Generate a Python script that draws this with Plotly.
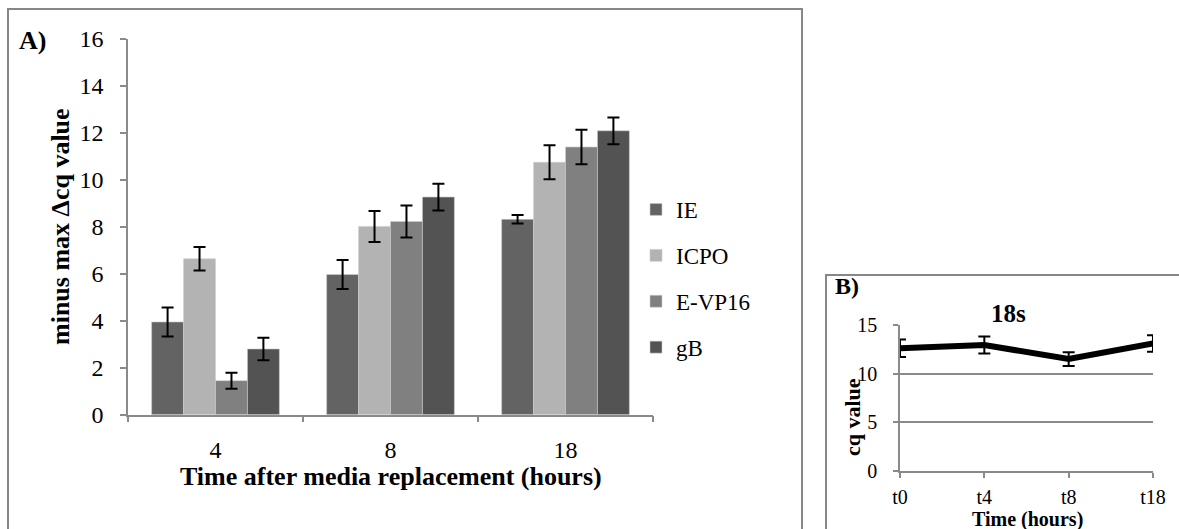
import plotly.graph_objects as go

W, H = 1179, 529
def px(x): return x / W
def py(y): return 1 - y / H

FONT = "Liberation Serif, Times New Roman, DejaVu Serif, serif"

# ---- Panel A data ----
timepoints = ["4", "8", "18"]
series_names = ["IE", "ICPO", "E-VP16", "gB"]
ie_vals = [3.95, 5.97, 8.32]
ie_err = [0.62, 0.62, 0.18]
icpo_vals = [6.64, 8.02, 10.75]
icpo_err = [0.50, 0.66, 0.72]
evp16_vals = [1.45, 8.23, 11.40]
evp16_err = [0.34, 0.68, 0.73]
gb_vals = [2.80, 9.27, 12.09]
gb_err = [0.48, 0.57, 0.57]
bar_colors = ["#636363", "#b3b3b3", "#808080", "#535353"]

# ---- Panel B data ----
b_times = ["t0", "t4", "t8", "t18"]
b_vals = [12.6, 12.95, 11.5, 13.1]
b_err = [0.9, 0.88, 0.7, 0.85]

fig = go.Figure()

for name, vals, errs, col in zip(series_names,
                                 [ie_vals, icpo_vals, evp16_vals, gb_vals],
                                 [ie_err, icpo_err, evp16_err, gb_err],
                                 bar_colors):
    fig.add_trace(go.Bar(
        x=timepoints, y=vals, name=name, legendgroup=name,
        marker=dict(color=col, line=dict(width=0.6, color="#cfcfcf")),
        error_y=dict(type="data", array=errs, visible=True,
                     color="black", thickness=2, width=6),
        xaxis="x", yaxis="y",
    ))

fig.add_trace(go.Scatter(
    x=b_times, y=b_vals, mode="lines", showlegend=False,
    line=dict(color="black", width=6),
    error_y=dict(type="data", array=b_err, visible=True,
                 color="black", thickness=2, width=6),
    xaxis="x2", yaxis="y2",
))

axis_gray = "#8a8a8a"

fig.update_layout(
    width=W, height=H,
    margin=dict(l=0, r=0, t=0, b=0, pad=0, autoexpand=False),
    paper_bgcolor="white", plot_bgcolor="rgba(0,0,0,0)",
    font=dict(family=FONT, color="black"),
    barmode="group", bargap=0.27, bargroupgap=0,
    showlegend=True,
    legend=dict(x=px(636), y=py(188), xanchor="left", yanchor="top",
                font=dict(family=FONT, size=23, color="black"),
                bgcolor="rgba(0,0,0,0)", tracegroupgap=13,
                itemclick=False),
    xaxis=dict(domain=[px(128), px(653)], anchor="y", type="category",
               tickson="boundaries", ticks="outside", ticklen=6,
               tickcolor=axis_gray, tickwidth=1.5,
               showline=True, linecolor=axis_gray, linewidth=1.5,
               showgrid=False, tickfont=dict(family=FONT, size=24),
               ticklabelstandoff=13),
    yaxis=dict(domain=[py(414.7), py(39)], anchor="x", range=[0, 16], dtick=2,
               ticks="outside", ticklen=6, tickcolor=axis_gray, tickwidth=1.5,
               showline=True, linecolor=axis_gray, linewidth=1.5,
               showgrid=False, zeroline=False,
               tickfont=dict(family=FONT, size=24), ticklabelstandoff=12),
    xaxis2=dict(domain=[px(900), px(1153)], anchor="y2", type="category",
                range=[0, 3], ticks="outside", ticklen=5,
                tickcolor=axis_gray, tickwidth=1.5,
                showline=True, linecolor=axis_gray, linewidth=1.5,
                showgrid=False, tickfont=dict(family=FONT, size=20),
                ticklabelstandoff=2),
    yaxis2=dict(domain=[py(471), py(325)], anchor="x2", range=[0, 15], dtick=5,
                ticks="outside", ticklen=5, tickcolor=axis_gray, tickwidth=1.5,
                showline=True, linecolor=axis_gray, linewidth=1.5,
                showgrid=True, gridcolor=axis_gray, gridwidth=1.5,
                zeroline=False, tickfont=dict(family=FONT, size=20),
                ticklabelstandoff=12),
    shapes=[
        dict(type="rect", xref="paper", yref="paper",
             x0=px(8), x1=px(802), y0=py(545), y1=py(9),
             line=dict(color="#878787", width=2), layer="below"),
        dict(type="rect", xref="paper", yref="paper",
             x0=px(826), x1=px(1195), y0=py(545), y1=py(275),
             line=dict(color="#878787", width=2), layer="below"),
    ],
    annotations=[
        dict(text="<b>A)</b>", x=px(17), y=py(40), xref="paper", yref="paper",
             xanchor="left", yanchor="middle", showarrow=False,
             font=dict(family=FONT, size=26)),
        dict(text="<b>minus max Δcq value</b>", x=px(60), y=py(226),
             xref="paper", yref="paper", textangle=-90, showarrow=False,
             xanchor="center", yanchor="middle",
             font=dict(family=FONT, size=26)),
        dict(text="<b>Time after media replacement (hours)</b>", x=px(391),
             y=py(476), xref="paper", yref="paper", showarrow=False,
             xanchor="center", yanchor="middle",
             font=dict(family=FONT, size=26)),
        dict(text="<b>B)</b>", x=px(833), y=py(286), xref="paper", yref="paper",
             xanchor="left", yanchor="middle", showarrow=False,
             font=dict(family=FONT, size=24)),
        dict(text="<b>18s</b>", x=px(1008), y=py(313), xref="paper",
             yref="paper", xanchor="center", yanchor="middle",
             showarrow=False, font=dict(family=FONT, size=25)),
        dict(text="<b>cq value</b>", x=px(852), y=py(417), xref="paper",
             yref="paper", textangle=-90, showarrow=False,
             xanchor="center", yanchor="middle",
             font=dict(family=FONT, size=22)),
        dict(text="<b>Time (hours)</b>", x=px(1027), y=py(519), xref="paper",
             yref="paper", showarrow=False, xanchor="center", yanchor="middle",
             font=dict(family=FONT, size=20)),
    ],
)

fig.write_html(
    "out.html",
    config={"displayModeBar": False},
    post_script="document.body.style.margin='0';document.body.style.overflow='hidden';",
)
